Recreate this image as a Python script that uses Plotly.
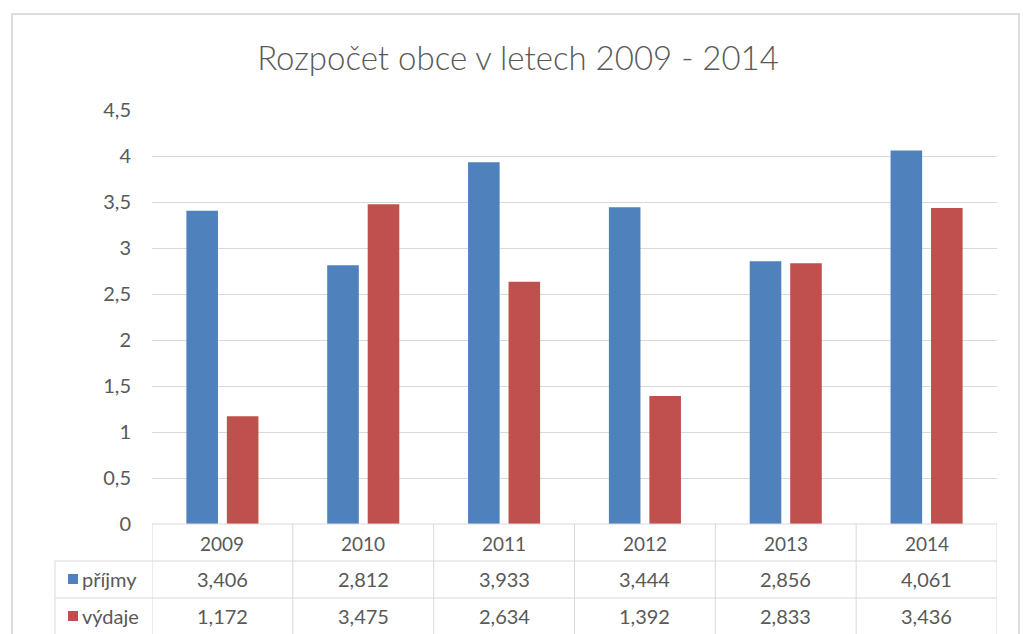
import plotly.graph_objects as go

title_text = "Rozpočet obce v letech 2009 - 2014"
years = ["2009", "2010", "2011", "2012", "2013", "2014"]
prijmy = [3.406, 2.812, 3.933, 3.444, 2.856, 4.061]
vydaje = [1.172, 3.475, 2.634, 1.392, 2.833, 3.436]
series_names = ["příjmy", "výdaje"]
series_colors = ["#4F81BD", "#C0504D"]

W, H = 1023, 634
L, R, T, B = 152, 26, 110, 110
PW = W - L - R
PH = H - T - B

def px_x(x):
    return (x - L) / PW

def px_y(y):
    return (H - B - y) / PH

FONT = "Lato"
TXT = "#595959"
LINE = "#D9D9D9"

fig = go.Figure()
for name, vals, col in zip(series_names, [prijmy, vydaje], series_colors):
    fig.add_trace(go.Bar(x=years, y=vals, name=name, marker_color=col,
                         marker_line_width=0, showlegend=False))

shapes = []
annotations = []

n = len(years)
# horizontal lines of the data table
shapes.append(dict(type="line", xref="paper", yref="paper", x0=0, x1=1,
                   y0=0, y1=0, line=dict(color=LINE, width=1)))
for yy in [561, 598]:
    shapes.append(dict(type="line", xref="paper", yref="paper", x0=px_x(55), x1=1,
                       y0=px_y(yy), y1=px_y(yy), line=dict(color=LINE, width=1)))
# vertical lines at category boundaries
for i in range(n + 1):
    shapes.append(dict(type="line", xref="x", yref="paper", x0=i - 0.5, x1=i - 0.5,
                       y0=0, y1=px_y(H + 5), line=dict(color=LINE, width=1)))
shapes.append(dict(type="line", xref="paper", yref="paper", x0=px_x(55), x1=px_x(55),
                   y0=px_y(561), y1=px_y(H + 5), line=dict(color=LINE, width=1)))

# header row
for i, yr in enumerate(years):
    annotations.append(dict(x=i, xref="x", y=px_y(543), yref="paper", text=yr,
                            xanchor="center", yanchor="middle", showarrow=False,
                            font=dict(family=FONT, size=19, color=TXT)))
for r, (name, vals, col) in enumerate(zip(series_names, [prijmy, vydaje], series_colors)):
    yc = px_y([579, 616][r])
    for i, v in enumerate(vals):
        annotations.append(dict(x=i, xref="x", y=yc, yref="paper",
                                text=f"{v:.3f}".replace(".", ","), showarrow=False,
                                xanchor="center", yanchor="middle",
                                font=dict(family=FONT, size=20, color=TXT)))
    shapes.append(dict(type="rect", xref="paper", yref="paper",
                       x0=px_x(68), x1=px_x(78), y0=yc - 5 / PH, y1=yc + 5 / PH,
                       fillcolor=col, line=dict(width=0)))
    annotations.append(dict(x=px_x(80), xref="paper", y=yc, yref="paper", text=name,
                            xanchor="left", yanchor="middle", showarrow=False,
                            font=dict(family=FONT, size=20, color=TXT)))

# outer chart border
shapes.append(dict(type="rect", xref="paper", yref="paper",
                   x0=px_x(12), x1=px_x(1019), y0=px_y(H + 10), y1=px_y(14),
                   line=dict(color="#DDDDDD", width=2), layer="below"))

fig.update_layout(
    width=W, height=H,
    margin=dict(l=L, r=R, t=T, b=B),
    paper_bgcolor="white", plot_bgcolor="white",
    separators=", ",
    title=dict(text=title_text, x=518 / W, xanchor="center", y=1 - 58 / H, yanchor="middle",
               font=dict(family=FONT, size=33, color=TXT, weight=300)),
    barmode="group", bargap=0.425, bargroupgap=0.22,
    xaxis=dict(type="category", showticklabels=False, showgrid=False, zeroline=False,
               showline=False, range=[-0.5, n - 0.5]),
    yaxis=dict(range=[0, 4.5], dtick=0.5, tick0=0, showgrid=True, gridcolor=LINE,
               gridwidth=1, zeroline=False, showline=False,
               ticklabelstandoff=20,
               tickfont=dict(family=FONT, size=20, color=TXT)),
    shapes=shapes, annotations=annotations,
)

fig.write_html("out.html", config={"displayModeBar": False},
               post_script="document.body.style.margin='0px';")
